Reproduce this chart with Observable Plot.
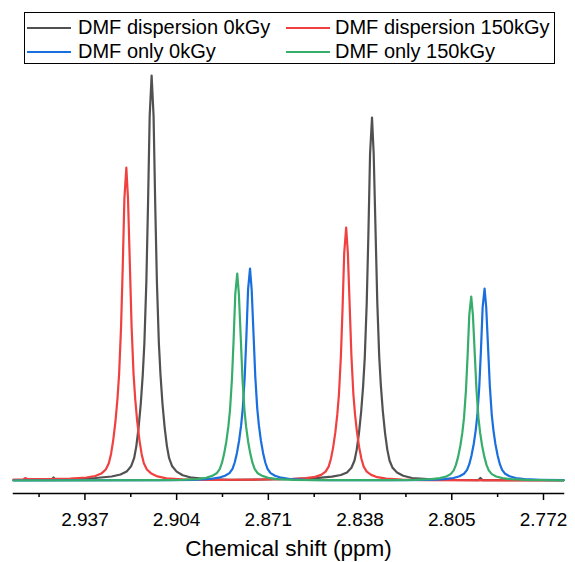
<!DOCTYPE html>
<html>
<head>
<meta charset="utf-8">
<script src="https://cdn.jsdelivr.net/npm/d3@7"></script>
<script src="https://cdn.jsdelivr.net/npm/@observablehq/plot@0.6"></script>
<style>
  html, body { margin: 0; padding: 0; background: #fff; }
  #wrap { position: relative; width: 575px; height: 562px; font-family: "Liberation Sans", Arial, sans-serif; }
  #legend { position: absolute; left: 24px; top: 12px; width: 531px; height: 52px; border: 1px solid #000; box-sizing: border-box; }
  .sample { position: absolute; height: 2.5px; width: 44px; }
  .ltext { position: absolute; font-size: 20px; line-height: 20px; color: #000; white-space: nowrap; }
  #chart { position: absolute; left: 0; top: 66px; }
</style>
</head>
<body>
<div id="wrap">
  <div id="legend"></div>
  <div id="chart"></div>
</div>
<script>
// Series names and colours
const seriesNames = ["DMF dispersion 0kGy", "DMF dispersion 150kGy", "DMF only 0kGy", "DMF only 150kGy"];
const seriesColors = ["#515151", "#F14040", "#1A6FDF", "#37AD6B"];

// Axis ticks (ppm)
const majorTicks = [2.937, 2.904, 2.871, 2.838, 2.805, 2.772];
const minorTicks = [2.9535, 2.9205, 2.8875, 2.8545, 2.8215, 2.7885];
const xDomain = [2.9627, 2.7648];
const xLabel = "Chemical shift (ppm)";

// Spectra: [chemical shift (ppm), intensity (a.u.)]
const dispersion0 = [
[2.9627,0.5],[2.9490,0.6],[2.9483,3],[2.9476,0.7],
[2.9418,1.5],[2.9332,2.5],[2.9274,4],[2.9242,6],[2.9220,8.9],[2.9204,14.2],[2.9193,22.3],[2.9185,34.4],[2.9177,52.7],[2.9169,77],[2.9162,105.3],[2.9156,137.7],[2.9149,198.5],[2.9143,275.4],[2.9137,364.5],[2.9130,405],
[2.9123,364.5],[2.9117,275.4],[2.9111,198.5],[2.9104,137.7],[2.9098,105.3],[2.9091,77],[2.9083,52.7],[2.9075,34.4],[2.9067,22.3],[2.9056,14.2],[2.9040,8.9],[2.9018,5.3],[2.8986,2.8],[2.8929,1.4],[2.8842,0.6],
[2.8625,1.5],[2.8539,2.3],[2.8481,3.8],[2.8449,5.5],[2.8427,8],[2.8411,12.7],[2.8400,20],[2.8392,30.9],[2.8384,47.2],[2.8376,69],[2.8369,94.4],[2.8363,123.4],[2.8356,177.9],[2.8350,246.8],[2.8344,326.7],[2.8337,363],
[2.8331,326.7],[2.8324,246.8],[2.8318,177.9],[2.8311,123.4],[2.8305,94.4],[2.8298,69],[2.8290,47.2],[2.8282,30.9],[2.8274,20],[2.8263,12.7],[2.8247,8],[2.8225,4.7],[2.8193,2.5],[2.8136,1.3],[2.8049,0.5],
[2.7954,0.4],[2.7947,2.5],[2.7940,0.4],[2.7648,0.3]
];
const dispersion150 = [
[2.9627,1.0],[2.9591,1.2],[2.9584,2.5],[2.9577,1.3],
[2.9509,1.5],[2.9423,2],[2.9365,3],[2.9333,4.5],[2.9311,6.9],[2.9295,11],[2.9284,17.2],[2.9276,26.6],[2.9268,40.7],[2.9260,59.5],[2.9253,81.4],[2.9247,106.4],[2.9240,153.4],[2.9234,212.8],[2.9228,281.7],[2.9221,313],
[2.9215,281.7],[2.9208,212.8],[2.9202,153.4],[2.9195,106.4],[2.9189,81.4],[2.9182,59.5],[2.9174,40.7],[2.9166,26.6],[2.9158,17.2],[2.9147,11],[2.9131,6.9],[2.9109,4.1],[2.9077,2.2],[2.9020,1.1],[2.8933,0.5],
[2.8718,1],[2.8632,1.5],[2.8574,2.3],[2.8542,3.6],[2.8520,5.6],[2.8504,8.9],[2.8493,13.9],[2.8485,21.5],[2.8477,32.9],[2.8469,48.1],[2.8462,65.8],[2.8456,86],[2.8449,124],[2.8443,172],[2.8437,227.7],[2.8430,253],
[2.8424,227.7],[2.8417,172],[2.8411,124],[2.8404,86],[2.8398,65.8],[2.8391,48.1],[2.8383,32.9],[2.8375,21.5],[2.8367,13.9],[2.8356,8.9],[2.8340,5.6],[2.8318,3.3],[2.8286,1.8],[2.8229,0.9],[2.8142,0.4],[2.7648,0]
];
const only0 = [
[2.9627,0],
[2.9064,0.3],[2.8978,0.7],[2.8920,1.5],[2.8888,2.8],[2.8866,4.7],[2.8850,7.4],[2.8839,11.7],[2.8831,18],[2.8823,27.6],[2.8815,40.3],[2.8808,55.1],[2.8802,72.1],[2.8795,103.9],[2.8789,144.2],[2.8783,190.8],[2.8776,212],
[2.8770,190.8],[2.8763,144.2],[2.8757,103.9],[2.8750,72.1],[2.8744,55.1],[2.8737,40.3],[2.8729,27.6],[2.8721,18],[2.8713,11.7],[2.8702,7.4],[2.8686,4.7],[2.8664,2.8],[2.8632,1.5],[2.8575,0.7],[2.8488,0.3],
[2.8220,0.3],[2.8134,0.7],[2.8076,1.3],[2.8044,2.5],[2.8022,4.2],[2.8006,6.7],[2.7995,10.6],[2.7987,16.3],[2.7979,25],[2.7971,36.5],[2.7964,49.9],[2.7958,65.3],[2.7951,94.1],[2.7945,130.6],[2.7939,172.8],[2.7932,192],
[2.7926,172.8],[2.7919,130.6],[2.7913,94.1],[2.7906,65.3],[2.7900,49.9],[2.7893,36.5],[2.7885,25],[2.7877,16.3],[2.7869,10.6],[2.7858,6.7],[2.7842,4.2],[2.7820,2.5],[2.7788,1.3],[2.7731,0.7],[2.7648,0.3]
];
const only150 = [
[2.9627,0],
[2.9110,0.3],[2.9024,0.7],[2.8966,1.4],[2.8934,2.7],[2.8912,4.6],[2.8896,7.2],[2.8885,11.4],[2.8877,17.6],[2.8869,26.9],[2.8861,39.3],[2.8854,53.8],[2.8848,70.4],[2.8841,101.4],[2.8835,140.8],[2.8829,186.3],[2.8822,207],
[2.8816,186.3],[2.8809,140.8],[2.8803,101.4],[2.8796,70.4],[2.8790,53.8],[2.8783,39.3],[2.8775,26.9],[2.8767,17.6],[2.8759,11.4],[2.8748,7.2],[2.8732,4.6],[2.8710,2.7],[2.8678,1.4],[2.8621,0.7],[2.8534,0.3],
[2.8268,0.3],[2.8182,0.6],[2.8124,1.3],[2.8092,2.4],[2.8070,4],[2.8054,6.4],[2.8043,10.1],[2.8035,15.6],[2.8027,23.9],[2.8019,35],[2.8012,47.8],[2.8006,62.6],[2.7999,90.2],[2.7993,125.1],[2.7987,165.6],[2.7980,184],
[2.7974,165.6],[2.7967,125.1],[2.7961,90.2],[2.7954,62.6],[2.7948,47.8],[2.7941,35],[2.7933,23.9],[2.7925,15.6],[2.7917,10.1],[2.7906,6.4],[2.7890,4],[2.7868,2.4],[2.7836,1.3],[2.7779,0.6],[2.7648,0.2]
];

const spectra = [dispersion0, dispersion150, only0, only150];
const rows = spectra.flatMap((pts, i) => pts.map(([ppm, v]) => ({ppm, v, name: seriesNames[i]})));

const font = '"Liberation Sans", Arial, sans-serif';

const chart = Plot.plot({
  width: 575,
  height: 496,
  marginLeft: 13,
  marginRight: 12,
  marginTop: 9,
  marginBottom: 69,
  style: {fontFamily: font, color: "#000", background: "#fff", overflow: "visible"},
  x: {domain: xDomain, label: null},
  y: {domain: [0, 405], range: [414, 9], axis: null},
  color: {domain: seriesNames, range: seriesColors},
  marks: [
    Plot.line(rows, {x: "ppm", y: "v", z: "name", stroke: "name", strokeWidth: 2.2, strokeLinejoin: "round"}),
    Plot.frame({anchor: "bottom", stroke: "#000", strokeWidth: 1.5}),
    Plot.axisX({ticks: minorTicks, tickSize: 4, tickFormat: () => "", strokeWidth: 1.5, label: null}),
    Plot.axisX({ticks: majorTicks, tickSize: 7, tickPadding: 12, tickFormat: d => d.toFixed(3), fontSize: 19, strokeWidth: 1.5, label: null}),
    Plot.text([xLabel], {frameAnchor: "bottom", dy: 62, fontSize: 22.5, fill: "#000"})
  ]
});
document.getElementById("chart").appendChild(chart);

// Legend (HTML, above the SVG)
const legend = document.getElementById("legend");
const colX = [2, 261], textX = [53, 310], rowY = [15, 39];
seriesNames.forEach((name, i) => {
  const c = i % 2, r = Math.floor(i / 2);
  const s = document.createElement("div");
  s.className = "sample";
  s.style.left = colX[c] + "px";
  s.style.top = (rowY[r] - 1.25) + "px";
  s.style.background = seriesColors[i];
  legend.appendChild(s);
  const t = document.createElement("div");
  t.className = "ltext";
  t.style.left = textX[c] + "px";
  t.style.top = (rowY[r] - 11) + "px";
  t.textContent = name;
  legend.appendChild(t);
});
</script>
</body>
</html>
